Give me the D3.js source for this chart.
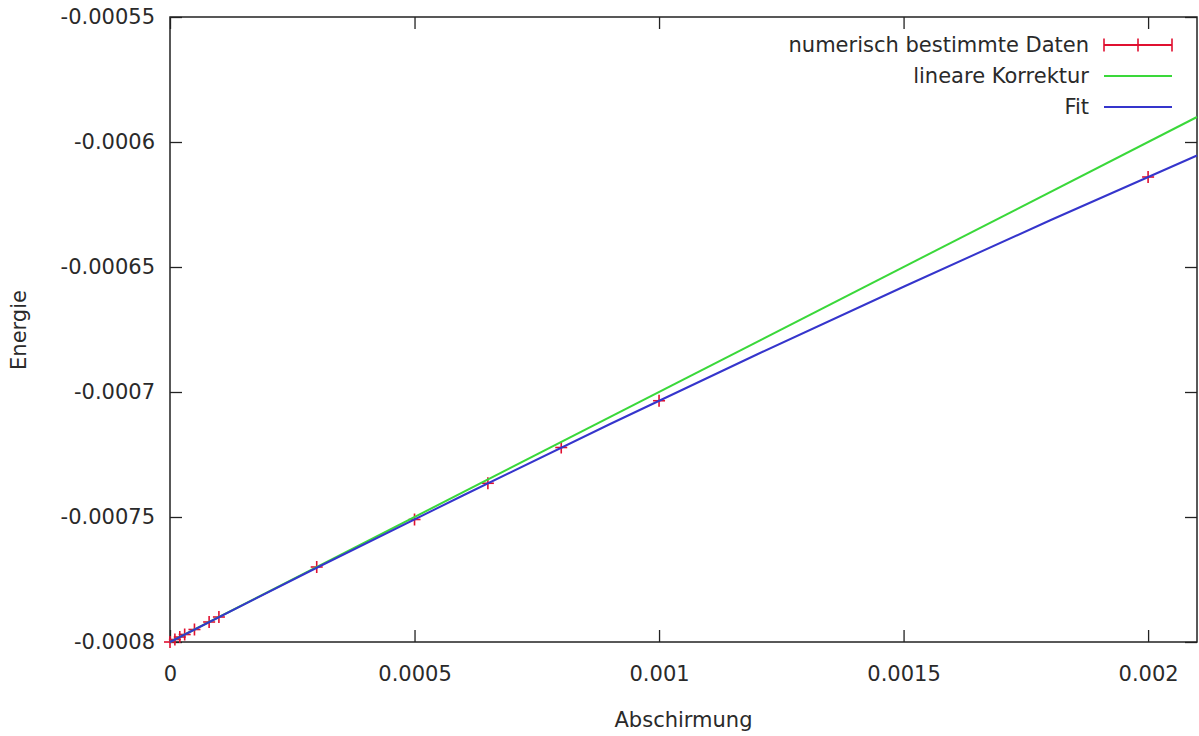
<!DOCTYPE html>
<html>
<head>
<meta charset="utf-8">
<script src="https://cdn.jsdelivr.net/npm/d3@7"></script>
<style>
  body { margin: 0; background: #fff; }
  text { font-family: "DejaVu Sans", "Liberation Sans", sans-serif; fill: #2a2a2a; }
  .axis path { display: none; }
  .axis line { stroke: #222; stroke-width: 1.3; }
  .axis text { font-size: 21px; }
</style>
</head>
<body>
<div id="chart"></div>
<script>
// Data
const dataX = [0, 0.00001, 0.00002, 0.00003, 0.00005, 0.00008, 0.0001, 0.0003, 0.0005, 0.00065, 0.0008, 0.001, 0.002];
const dataY = [-0.0008, -0.000799, -0.000798, -0.000797, -0.000795, -0.000792, -0.00079, -0.00077, -0.000751, -0.0007365, -0.0007222, -0.0007035, -0.000614];

// green line: linear correction
const corrX = [0, 0.0021];
const corrY = [-0.0008, -0.00059];

// blue line: fit
const fitX = [0, 0.0003, 0.0006, 0.0009, 0.0012, 0.0015, 0.0018, 0.0021];
const fitY = [-0.0008, -0.0007703, -0.0007413, -0.0007128, -0.000685, -0.0006579, -0.0006313, -0.0006054];

const xTicks = [0, 0.0005, 0.001, 0.0015, 0.002];
const xTickLabels = ["0", "0.0005", "0.001", "0.0015", "0.002"];
const yTicks = [-0.00055, -0.0006, -0.00065, -0.0007, -0.00075, -0.0008];
const yTickLabels = ["-0.00055", "-0.0006", "-0.00065", "-0.0007", "-0.00075", "-0.0008"];

const seriesNames = ["numerisch bestimmte Daten", "lineare Korrektur", "Fit"];
const seriesColors = ["#e01030", "#3ad83a", "#3535cc"];

const margin = { top: 17, right: 2, bottom: 94, left: 170 };
const width = 1199 - margin.left - margin.right;
const height = 736 - margin.top - margin.bottom;

const x = d3.scaleLinear().domain([0, 0.0021]).range([0, width]);
const y = d3.scaleLinear().domain([-0.0008, -0.00055]).range([height, 0]);

const svg = d3.select("#chart")
  .append("svg")
  .attr("width", 1199)
  .attr("height", 736)
  .append("g")
  .attr("transform", "translate(" + margin.left + "," + margin.top + ")");

// axes, ticks pointing inward on all four sides
svg.append("g")
  .attr("class", "axis")
  .attr("transform", "translate(0," + height + ")")
  .call(d3.axisBottom(x).tickValues(xTicks).tickSize(-12).tickPadding(24)
    .tickFormat((d, i) => xTickLabels[i]));

svg.append("g")
  .attr("class", "axis")
  .call(d3.axisTop(x).tickValues(xTicks).tickSize(-12).tickFormat(""));

svg.append("g")
  .attr("class", "axis")
  .call(d3.axisLeft(y).tickValues(yTicks).tickSize(-12).tickPadding(15)
    .tickFormat((d, i) => yTickLabels[i]));

svg.append("g")
  .attr("class", "axis")
  .attr("transform", "translate(" + width + ",0)")
  .call(d3.axisRight(y).tickValues(yTicks).tickSize(-12).tickFormat(""));

// frame
svg.append("rect")
  .attr("width", width)
  .attr("height", height)
  .attr("fill", "none")
  .attr("stroke", "#222")
  .attr("stroke-width", 1.5);

// axis titles
svg.append("text")
  .attr("x", width / 2)
  .attr("y", height + 85)
  .attr("text-anchor", "middle")
  .style("font-size", "21px")
  .text("Abschirmung");

svg.append("text")
  .attr("transform", "rotate(-90)")
  .attr("x", -313)
  .attr("y", -144)
  .attr("text-anchor", "middle")
  .style("font-size", "21px")
  .text("Energie");

const plot = svg.append("g");

// data points as "+"
const pts = dataX.map((d, i) => [d, dataY[i]]);
const s = 6;
const marks = plot.selectAll(".pt")
  .data(pts)
  .enter().append("g")
  .attr("class", "pt")
  .attr("transform", d => "translate(" + x(d[0]) + "," + y(d[1]) + ")");
marks.append("line").attr("x1", -s).attr("x2", s)
  .attr("stroke", seriesColors[0]).attr("stroke-width", 1.6);
marks.append("line").attr("y1", -s).attr("y2", s)
  .attr("stroke", seriesColors[0]).attr("stroke-width", 1.6);

const line = d3.line().x(d => x(d[0])).y(d => y(d[1]));

plot.append("path")
  .datum(corrX.map((d, i) => [d, corrY[i]]))
  .attr("fill", "none")
  .attr("stroke", seriesColors[1])
  .attr("stroke-width", 2)
  .attr("d", line);

plot.append("path")
  .datum(fitX.map((d, i) => [d, fitY[i]]))
  .attr("fill", "none")
  .attr("stroke", seriesColors[2])
  .attr("stroke-width", 2)
  .attr("d", line.curve(d3.curveMonotoneX));

// legend
const legend = svg.append("g").attr("transform", "translate(" + (1089 - margin.left) + ",0)");
seriesNames.forEach((name, i) => {
  const ly = 28 + i * 31;
  legend.append("text")
    .attr("x", 0)
    .attr("y", ly)
    .attr("dy", "0.35em")
    .attr("text-anchor", "end")
    .style("font-size", "21px")
    .text(name);
  const lx0 = 15, lx1 = 83;
  legend.append("line")
    .attr("x1", lx0).attr("x2", lx1).attr("y1", ly).attr("y2", ly)
    .attr("stroke", seriesColors[i]).attr("stroke-width", 1.8);
  if (i === 0) {
    [lx0, (lx0 + lx1) / 2, lx1].forEach(cx => {
      legend.append("line")
        .attr("x1", cx).attr("x2", cx).attr("y1", ly - 6.5).attr("y2", ly + 6.5)
        .attr("stroke", seriesColors[0]).attr("stroke-width", 1.6);
    });
  }
});
</script>
</body>
</html>
